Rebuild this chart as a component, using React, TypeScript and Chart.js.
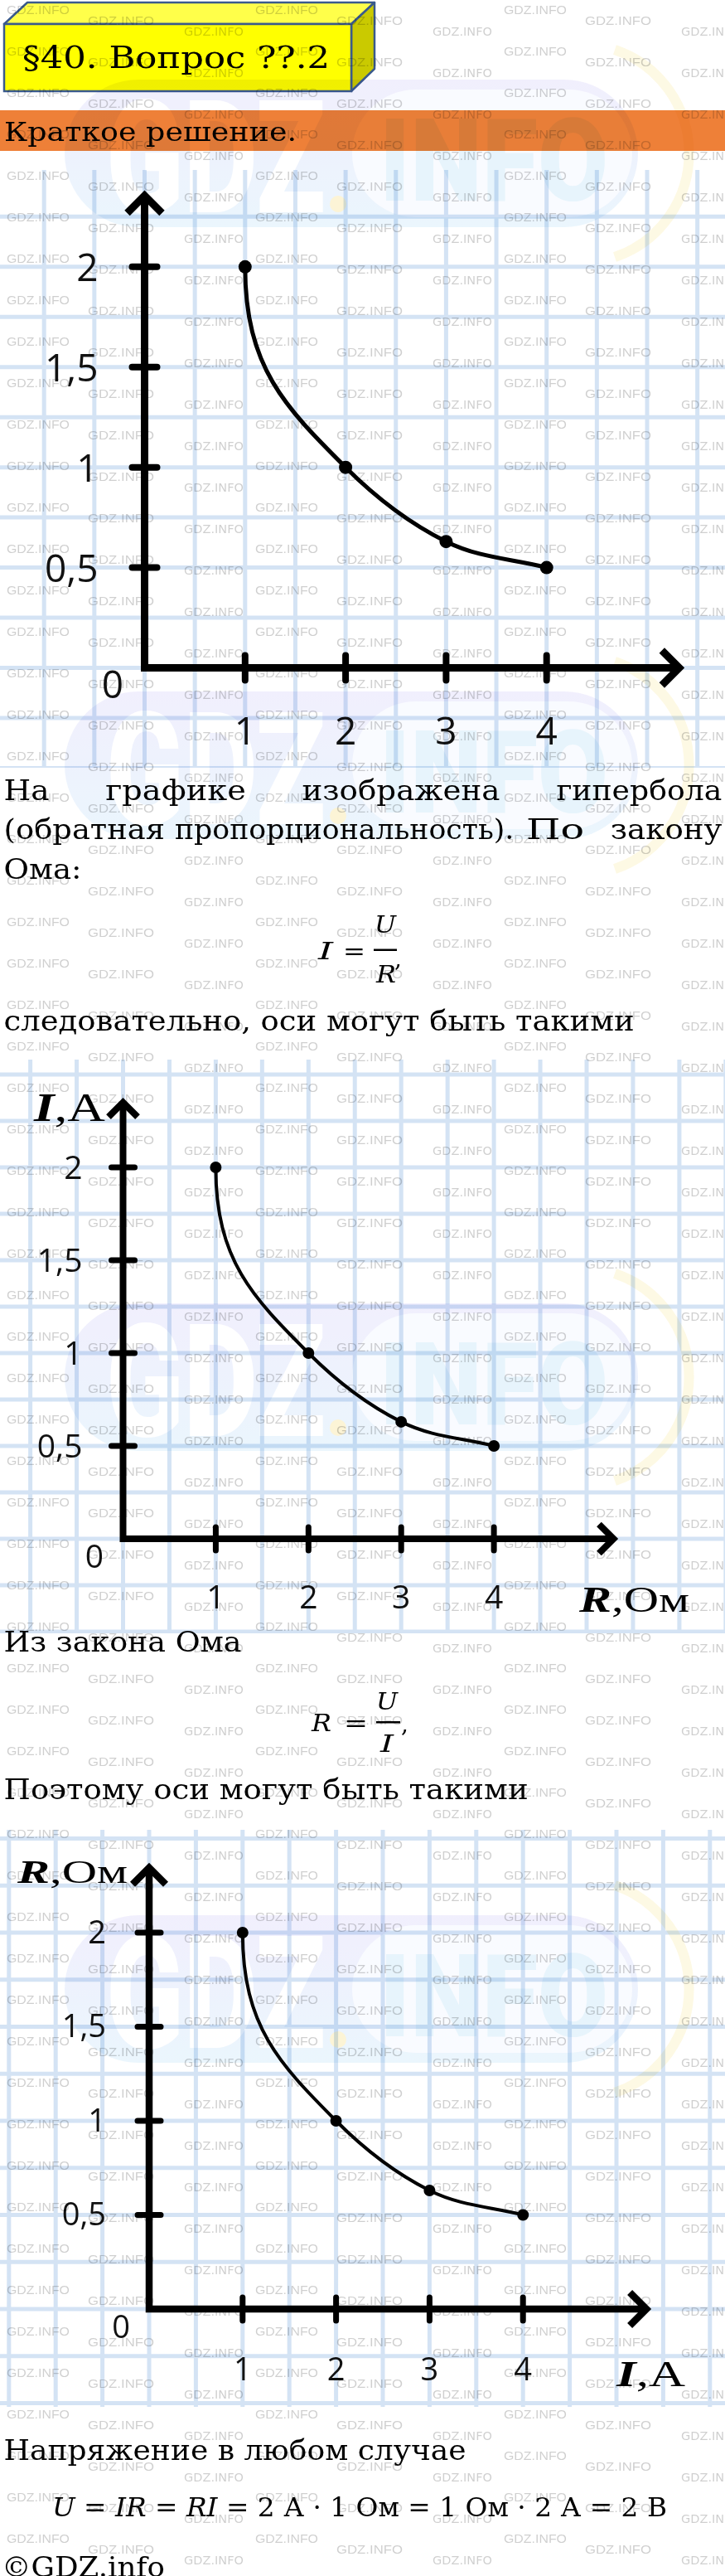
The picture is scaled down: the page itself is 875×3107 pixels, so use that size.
import React, { useEffect, useRef } from "react";
import { Chart, registerables } from "chart.js";

Chart.register(...registerables);

// Points of the hyperbola, shared by the three graphs
const xValues = [1, 2, 3, 4];
const yValues = [2, 1, 0.63, 0.5];
// Labelled divisions on the axes
const xTickValues = [1, 2, 3, 4];
const yTickValues = [0.5, 1, 1.5, 2];

const PAGE_W = 875;
const PAGE_H = 3107;

type Graph = {
  top: number;
  height: number;
  x0: number;
  ux: number;
  y0: number;
  uy: number;
  xMax: number;
  yMax: number;
  xTip: number;
  yTip: number;
  arm: number;
  axisWidth: number;
  tickHalf: number;
  tickWidth: number;
  lineWidth: number;
  pointRadius: number;
  fontSize: number;
  xPad: number;
  yPad: number;
  yShift: number;
  zero: [number, number];
};

// Placement of each graph on the page (origin pixel and size of one unit)
const graphs: Graph[] = [
  { top: 205, height: 721, x0: 174.5, ux: 121.3, y0: 600.5, uy: 244, xMax: 5.5, yMax: 2.45, xTip: 5.32, yTip: 2.355, arm: 21, axisWidth: 9, tickHalf: 15, tickWidth: 8, lineWidth: 5, pointRadius: 8, fontSize: 46, xPad: 52, yPad: 56, yShift: 4, zero: [-38.5, 23.5] },
  { top: 1278, height: 692, x0: 148.5, ux: 111.9, y0: 578, uy: 224, xMax: 5.5, yMax: 2.5, xTip: 5.29, yTip: 2.35, arm: 17.5, axisWidth: 8, tickHalf: 14, tickWidth: 7, lineWidth: 4, pointRadius: 7, fontSize: 39, xPad: 49, yPad: 49, yShift: 3, zero: [-34.5, 24] },
  { top: 2207, height: 696, x0: 180, ux: 112.8, y0: 578, uy: 227, xMax: 5.5, yMax: 2.5, xTip: 5.32, yTip: 2.345, arm: 20, axisWidth: 8.5, tickHalf: 14, tickWidth: 7, lineWidth: 4, pointRadius: 7, fontSize: 38, xPad: 52, yPad: 52, yShift: 2, zero: [-34, 24] },
];

const fmt = (v: number | string) => String(v).replace(".", ",");

// Squared notebook paper behind each graph, aligned to the data units
const paperGrid = {
  id: "paperGrid",
  beforeDraw(chart: any, _args: any, opts: any) {
    const { ctx, width, height } = chart;
    const xs = chart.scales.x;
    const ys = chart.scales.y;
    ctx.save();
    ctx.strokeStyle = opts.color;
    ctx.lineWidth = opts.width;
    ctx.beginPath();
    for (let v = -4; v <= 10; v += opts.xStep) {
      const px = xs.getPixelForValue(v);
      if (px < -10 || px > width + 10) continue;
      ctx.moveTo(px, 0);
      ctx.lineTo(px, height);
    }
    for (let v = -2; v <= 4; v += opts.yStep) {
      const py = ys.getPixelForValue(v);
      if (py < -10 || py > height + 10) continue;
      ctx.moveTo(0, py);
      ctx.lineTo(width, py);
    }
    ctx.stroke();
    ctx.restore();
  },
};

// Thick axes with open arrowheads, crossing division marks and the "0" at the origin
const axisArrows = {
  id: "axisArrows",
  beforeDatasetsDraw(chart: any, _args: any, o: any) {
    const { ctx } = chart;
    const xs = chart.scales.x;
    const ys = chart.scales.y;
    const ox = xs.getPixelForValue(0);
    const oy = ys.getPixelForValue(0);
    const tipY = ys.getPixelForValue(o.yTip);
    const tipX = xs.getPixelForValue(o.xTip);
    ctx.save();
    ctx.strokeStyle = "#000";
    ctx.lineWidth = o.axisWidth;
    ctx.lineJoin = "miter";
    ctx.lineCap = "butt";
    ctx.beginPath();
    ctx.moveTo(ox, tipY);
    ctx.lineTo(ox, oy);
    ctx.lineTo(tipX, oy);
    ctx.stroke();
    ctx.beginPath();
    ctx.moveTo(ox - o.arm, tipY + o.arm);
    ctx.lineTo(ox, tipY);
    ctx.lineTo(ox + o.arm, tipY + o.arm);
    ctx.moveTo(tipX - o.arm, oy - o.arm);
    ctx.lineTo(tipX, oy);
    ctx.lineTo(tipX - o.arm, oy + o.arm);
    ctx.stroke();
    ctx.lineWidth = o.tickWidth;
    ctx.lineCap = "round";
    ctx.beginPath();
    for (const v of xTickValues) {
      const px = xs.getPixelForValue(v);
      ctx.moveTo(px, oy - o.tickHalf);
      ctx.lineTo(px, oy + o.tickHalf);
    }
    for (const v of yTickValues) {
      const py = ys.getPixelForValue(v);
      ctx.moveTo(ox - o.tickHalf, py);
      ctx.lineTo(ox + o.tickHalf, py);
    }
    ctx.stroke();
    ctx.fillStyle = "#111";
    ctx.font = `${o.fontSize}px 'Open Sans', sans-serif`;
    ctx.textAlign = "center";
    ctx.textBaseline = "middle";
    ctx.fillText("0", ox + o.zero[0], oy + o.zero[1]);
    ctx.restore();
  },
};

// The hand-drawn hyperbola leaves its first point going straight down and
// passes the second point a little flatter than the monotone spline would
const bentStart = {
  id: "bentStart",
  beforeDatasetDraw(chart: any, args: any, o: any) {
    const meta = args.meta;
    const line = meta.dataset;
    if (line && typeof line.updateControlPoints === "function") {
      line.updateControlPoints(chart.chartArea, "x");
    }
    const pts = meta.data;
    if (!pts || pts.length < 3) return;
    const [p0, p1, p2] = pts;
    if (p1.cp2x === undefined || p1.cp2x === p1.x) return;
    const slope = ((p1.cp2y - p1.y) / (p1.cp2x - p1.x)) * o.flatten;
    const dxL = p1.x - p0.x;
    const dxR = p2.x - p1.x;
    p0.cp2x = p0.x;
    p0.cp2y = p0.y + o.drop * (p1.y - p0.y);
    p1.cp1x = p1.x - o.reach * dxL;
    p1.cp1y = p1.y - slope * o.reach * dxL;
    p1.cp2x = p1.x + dxR / 3;
    p1.cp2y = p1.y + (slope * dxR) / 3;
  },
};

function HyperbolaGraph({ g }: { g: Graph }) {
  const ref = useRef<HTMLCanvasElement | null>(null);

  useEffect(() => {
    const canvas = ref.current;
    if (!canvas) return;
    const tickFont = { family: "'Open Sans', sans-serif", size: g.fontSize, weight: "normal" as const };
    const chart = new Chart(canvas, {
      type: "line",
      data: {
        datasets: [
          {
            data: xValues.map((x, i) => ({ x, y: yValues[i] })),
            borderColor: "#000",
            backgroundColor: "#000",
            borderWidth: g.lineWidth,
            pointRadius: g.pointRadius,
            pointHoverRadius: g.pointRadius,
            pointBackgroundColor: "#000",
            pointBorderWidth: 0,
            cubicInterpolationMode: "monotone",
            fill: false,
          },
        ],
      },
      options: {
        responsive: false,
        animation: false,
        devicePixelRatio: 1,
        events: [],
        layout: {
          padding: {
            left: 0,
            top: g.y0 - g.yMax * g.uy,
            right: PAGE_W - (g.x0 + g.xMax * g.ux),
            bottom: 0,
          },
        },
        plugins: {
          legend: { display: false },
          tooltip: { enabled: false },
          paperGrid: { color: "rgba(196,216,240,0.72)", width: 5, xStep: 0.5, yStep: 0.25 },
          axisArrows: {
            xTip: g.xTip,
            yTip: g.yTip,
            arm: g.arm,
            axisWidth: g.axisWidth,
            tickHalf: g.tickHalf,
            tickWidth: g.tickWidth,
            fontSize: g.fontSize,
            zero: g.zero,
          },
          bentStart: { drop: 0.5, reach: 0.6, flatten: 0.73 },
        } as any,
        scales: {
          x: {
            type: "linear",
            min: 0,
            max: g.xMax,
            grid: { display: false, drawTicks: false },
            border: { display: false },
            afterBuildTicks: (sc: any) => {
              sc.ticks = xTickValues.map((v) => ({ value: v }));
            },
            afterFit: (sc: any) => {
              sc.height = g.height - g.y0;
              sc.paddingLeft = 0;
              sc.paddingRight = 0;
            },
            ticks: {
              font: tickFont,
              color: "#111",
              padding: g.xPad,
              maxRotation: 0,
              autoSkip: false,
              callback: (v: any) => fmt(v),
            },
          },
          y: {
            type: "linear",
            min: 0,
            max: g.yMax,
            grid: { display: false, drawTicks: false },
            border: { display: false },
            afterBuildTicks: (sc: any) => {
              sc.ticks = yTickValues.map((v) => ({ value: v }));
            },
            afterFit: (sc: any) => {
              sc.width = g.x0;
              sc.paddingTop = 0;
              sc.paddingBottom = 0;
            },
            ticks: {
              font: tickFont,
              color: "#111",
              padding: g.yPad,
              labelOffset: g.yShift,
              autoSkip: false,
              callback: (v: any) => fmt(v),
            },
          },
        },
      } as any,
      plugins: [paperGrid, axisArrows, bentStart],
    });
    return () => chart.destroy();
  }, [g]);

  return (
    <canvas
      ref={ref}
      width={PAGE_W}
      height={g.height}
      style={{ position: "absolute", left: 0, top: g.top, width: PAGE_W, height: g.height }}
    />
  );
}

const SERIF = "'DejaVu Serif', serif";
const TITLE_SERIF = "'Liberation Serif', serif";

type TProps = {
  x: number;
  y: number;
  w?: number;
  size: number;
  italic?: boolean;
  family?: string;
  children: React.ReactNode;
};

function T({ x, y, w, size, italic, family, children }: TProps) {
  return (
    <text
      x={x}
      y={y}
      fontSize={size}
      fontFamily={family || SERIF}
      fontStyle={italic ? "italic" : "normal"}
      fill="#000"
      textLength={w}
      lengthAdjust={w ? "spacingAndGlyphs" : undefined}
    >
      {children}
    </text>
  );
}

function AxisTitle({ x, y, w, size, v, unit }: { x: number; y: number; w: number; size: number; v: string; unit: string }) {
  return (
    <text x={x} y={y} fontSize={size} fontFamily={TITLE_SERIF} fill="#000" textLength={w} lengthAdjust="spacingAndGlyphs">
      <tspan fontStyle="italic" fontWeight="bold">{v}</tspan>
      {"," + unit}
    </text>
  );
}

function Page() {
  return (
    <svg width={PAGE_W} height={PAGE_H} style={{ position: "absolute", left: 0, top: 0 }}>
      {/* heading plate */}
      <polygon points="5,29 33,3 452,3 424,29" fill="#FFFF4A" stroke="#3A5A8C" strokeWidth={2.5} strokeLinejoin="round" />
      <polygon points="424,29 452,3 452,83 424,110" fill="#CACA00" stroke="#3A5A8C" strokeWidth={2.5} strokeLinejoin="round" />
      <rect x={5} y={29} width={419} height={81} fill="#FFFF00" stroke="#3A5A8C" strokeWidth={2.5} />
      <T x={27} y={82} w={371} size={37}>§40. Вопрос ??.2</T>

      <rect x={0} y={133} width={PAGE_W} height={49} fill="#EE8038" />
      <T x={5} y={170} w={353} size={32}>Краткое решение.</T>

      {/* paragraph after the first graph */}
      <T x={4.6} y={965} w={55} size={34}>На</T>
      <T x={127.3} y={965} w={169.5} size={34}>графике</T>
      <T x={364.5} y={965} w={239} size={34}>изображена</T>
      <T x={671.4} y={965} w={200} size={34}>гипербола</T>
      <T x={4.6} y={1012} w={194.4} size={34}>(обратная</T>
      <T x={211} y={1012} w={409.4} size={34}>пропорциональность).</T>
      <T x={635} y={1012} w={70} size={34}>По</T>
      <T x={736.7} y={1012} w={134.8} size={34}>закону</T>
      <T x={4.6} y={1060} w={94} size={34}>Ома:</T>

      {/* I = U / R */}
      <T x={384} y={1157} w={18} size={28} italic>I</T>
      <T x={414} y={1157} w={27} size={28}>=</T>
      <T x={452} y={1125} w={26} size={28} italic>U</T>
      <rect x={451} y={1144.5} width={28} height={2.5} fill="#000" />
      <T x={454} y={1185} w={24} size={28} italic>R</T>
      <T x={476} y={1166} size={28}>,</T>

      <T x={4.6} y={1243} w={761} size={34}>следовательно, оси могут быть такими</T>

      <AxisTitle x={41} y={1352} w={86} size={48} v="I" unit="А" />
      <AxisTitle x={699} y={1944} w={133} size={45} v="R" unit="Ом" />

      <T x={4.6} y={1992} w={287} size={34}>Из закона Ома</T>

      {/* R = U / I */}
      <T x={376} y={2088} w={24} size={28} italic>R</T>
      <T x={415} y={2088} w={29} size={28}>=</T>
      <T x={454} y={2062} w={26} size={28} italic>U</T>
      <rect x={454} y={2076} width={29} height={2.5} fill="#000" />
      <T x={459} y={2113} w={16} size={28} italic>I</T>
      <T x={484} y={2089} size={28}>,</T>

      <T x={4.6} y={2170} w={633} size={34}>Поэтому оси могут быть такими</T>

      <AxisTitle x={21} y={2271} w={133} size={41} v="R" unit="Ом" />
      <AxisTitle x={744} y={2878} w={83} size={44} v="I" unit="А" />

      <T x={4.6} y={2967} w={558} size={34}>Напряжение в любом случае</T>

      <text x={63} y={3035} fontSize={32} fontFamily={SERIF} fill="#000" textLength={742} lengthAdjust="spacingAndGlyphs">
        <tspan fontStyle="italic">U</tspan>
        {" = "}
        <tspan fontStyle="italic">IR</tspan>
        {" = "}
        <tspan fontStyle="italic">RI</tspan>
        {" = 2 А · 1 Ом = 1 Ом · 2 А = 2 В"}
      </text>

      <T x={2} y={3108} w={197} size={34}>©GDZ.info</T>
    </svg>
  );
}

// Large pale site logos laid over the sheet
const logoTops = [96, 834, 1572, 2310];

function Logos() {
  return (
    <svg
      width={PAGE_W}
      height={PAGE_H}
      style={{ position: "absolute", left: 0, top: 0, pointerEvents: "none", mixBlendMode: "multiply", opacity: 0.7 }}
    >
      <defs>
        <linearGradient id="logoFill" x1="0" y1="0" x2="0" y2="1">
          <stop offset="0" stopColor="#ebe8fc" />
          <stop offset="1" stopColor="#e2f2fc" />
        </linearGradient>
        <g id="logo">
          <path d="M 742 -36 A 132 132 0 0 1 742 214" fill="none" stroke="#fdf6d8" strokeWidth={12} />
          <rect x={78} y={0} width={692} height={178} rx={89} fill="url(#logoFill)" />
          <text x={128} y={160} fontSize={190} fontWeight={900} fontFamily="Roboto, sans-serif" fill="#ffffff" textLength={265} lengthAdjust="spacingAndGlyphs">GDZ</text>
          <circle cx={408} cy={150} r={10} fill="#fbefc4" />
          <rect x={425} y={12} width={338} height={154} rx={77} fill="#f7f9ff" />
          <text x={458} y={146} fontSize={140} fontWeight={900} fontFamily="Roboto, sans-serif" fill="#ddf0fb" textLength={276} lengthAdjust="spacingAndGlyphs">INFO</text>
        </g>
      </defs>
      {logoTops.map((t) => (
        <use key={t} href="#logo" x={0} y={t} />
      ))}
    </svg>
  );
}

// Light site stamp repeated over the whole sheet
function Stamp() {
  return (
    <svg width={PAGE_W} height={PAGE_H} style={{ position: "absolute", left: 0, top: 0, pointerEvents: "none" }}>
      <defs>
        <pattern id="stamp" x={0} y={0} width={300} height={50} patternUnits="userSpaceOnUse">
          <text x={8} y={17} fontSize={14.5} fontFamily="'Liberation Sans', sans-serif" fill="#000" fillOpacity={0.19} textLength={76} lengthAdjust="spacingAndGlyphs">GDZ.INFO</text>
          <text x={106} y={30} fontSize={14.5} fontFamily="'Liberation Sans', sans-serif" fill="#000" fillOpacity={0.19} textLength={80} lengthAdjust="spacingAndGlyphs">GDZ.INFO</text>
          <text x={222} y={43} fontSize={14.5} fontFamily="'DejaVu Sans', sans-serif" fill="#000" fillOpacity={0.19} textLength={72} lengthAdjust="spacingAndGlyphs">GDZ.INFO</text>
        </pattern>
      </defs>
      <rect x={0} y={0} width={PAGE_W} height={PAGE_H} fill="url(#stamp)" />
    </svg>
  );
}

export default function App() {
  return (
    <div style={{ position: "absolute", left: 0, top: 0, width: PAGE_W, height: PAGE_H, background: "#fff", overflow: "hidden", isolation: "isolate" }}>
      {graphs.map((g, i) => (
        <HyperbolaGraph key={i} g={g} />
      ))}
      <Page />
      <Logos />
      <Stamp />
    </div>
  );
}
